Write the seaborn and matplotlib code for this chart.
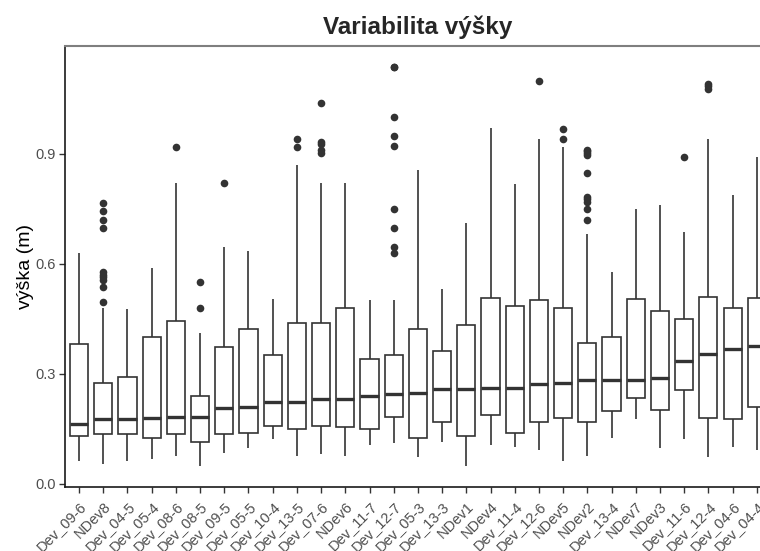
import numpy as np
import pandas as pd
import seaborn as sns
import matplotlib
matplotlib.use('Agg')
import matplotlib.pyplot as plt

# Samples, ordered by median height
categories = ['Dev_09-6', 'NDev8', 'Dev_04-5', 'Dev_05-4', 'Dev_08-6', 'Dev_08-5',
              'Dev_09-5', 'Dev_05-5', 'Dev_10-4', 'Dev_13-5', 'Dev_07-6', 'NDev6',
              'Dev_11-7', 'Dev_12-7', 'Dev_05-3', 'Dev_13-3', 'NDev1', 'NDev4',
              'Dev_11-4', 'Dev_12-6', 'NDev5', 'NDev2', 'Dev_13-4', 'NDev7',
              'NDev3', 'Dev_11-6', 'Dev_12-4', 'Dev_04-6', 'Dev_04-4']

# Box summaries (m)
whisker_lo = [0.061, 0.052, 0.061, 0.066, 0.075, 0.048, 0.084, 0.098, 0.122, 0.075,
              0.080, 0.075, 0.105, 0.111, 0.073, 0.114, 0.048, 0.105, 0.099, 0.091,
              0.061, 0.075, 0.125, 0.175, 0.098, 0.122, 0.073, 0.099, 0.091]
q1 = [0.130, 0.134, 0.134, 0.124, 0.134, 0.112, 0.134, 0.137, 0.158, 0.149,
      0.158, 0.155, 0.149, 0.182, 0.123, 0.169, 0.130, 0.187, 0.137, 0.169,
      0.180, 0.169, 0.198, 0.232, 0.200, 0.255, 0.180, 0.176, 0.208]
median = [0.161, 0.175, 0.175, 0.180, 0.182, 0.182, 0.207, 0.210, 0.221, 0.221,
          0.231, 0.231, 0.239, 0.243, 0.246, 0.257, 0.257, 0.260, 0.260, 0.271,
          0.275, 0.281, 0.281, 0.281, 0.289, 0.334, 0.352, 0.366, 0.375]
q3 = [0.380, 0.273, 0.290, 0.400, 0.443, 0.240, 0.372, 0.421, 0.350, 0.439,
      0.439, 0.478, 0.340, 0.350, 0.421, 0.361, 0.432, 0.507, 0.485, 0.500,
      0.478, 0.382, 0.400, 0.503, 0.470, 0.450, 0.510, 0.478, 0.507]
whisker_hi = [0.628, 0.480, 0.475, 0.589, 0.819, 0.410, 0.646, 0.635, 0.504, 0.869,
              0.819, 0.819, 0.500, 0.500, 0.855, 0.530, 0.710, 0.969, 0.816, 0.940,
              0.919, 0.680, 0.578, 0.748, 0.760, 0.687, 0.940, 0.787, 0.890]

# Outliers
outlier_cat = (['NDev8'] * 10 + ['Dev_08-6'] + ['Dev_08-5'] * 2 + ['Dev_09-5']
               + ['Dev_13-5'] * 2 + ['Dev_07-6'] * 5 + ['Dev_12-7'] * 9
               + ['Dev_12-6'] + ['NDev5'] * 2 + ['NDev2'] * 10 + ['Dev_11-6']
               + ['Dev_12-4'] * 3)
outlier_val = ([0.764, 0.744, 0.719, 0.698, 0.576, 0.569, 0.562, 0.555, 0.535, 0.496]
               + [0.918] + [0.549, 0.478] + [0.821]
               + [0.940, 0.918] + [1.039, 0.932, 0.926, 0.910, 0.902]
               + [1.137, 1.135, 0.999, 0.949, 0.920, 0.748, 0.698, 0.646, 0.628]
               + [1.099] + [0.967, 0.939]
               + [0.910, 0.906, 0.902, 0.896, 0.846, 0.782, 0.775, 0.767, 0.748, 0.719]
               + [0.890] + [1.091, 1.083, 1.075])

y_ticks = [0.0, 0.3, 0.6, 0.9]
y_tick_labels = ['0.0', '0.3', '0.6', '0.9']

# long table for seaborn: five summary points per sample
rows = []
for i, cat in enumerate(categories):
    for v in (whisker_lo[i], q1[i], median[i], q3[i], whisker_hi[i]):
        rows.append((cat, v))
box_df = pd.DataFrame(rows, columns=['vzorek', 'vyska'])

sns.set_style('white')
plt.rcParams['font.family'] = ['Liberation Sans', 'DejaVu Sans']

fig = plt.figure(figsize=(7.6, 5.51), dpi=100)
# panel runs past the right edge, like the cropped original
ax = fig.add_axes([0.0849, 0.117, 0.930, 0.8003])

sns.boxplot(data=box_df, x='vzorek', y='vyska', order=categories, whis=(0, 100),
            width=0.75, color='white', linecolor='#333333', linewidth=1.2,
            showcaps=False, medianprops={'linewidth': 2.4}, ax=ax)
sns.stripplot(x=outlier_cat, y=outlier_val, order=categories, jitter=False,
              color='#333333', size=5.5, linewidth=0, ax=ax)

ax.set_xlim(-0.6, 28.6)
ax.set_ylim(-0.0082, 1.1945)

ax.set_yticks(y_ticks)
ax.set_yticklabels(y_tick_labels)
ax.set_xticks(range(len(categories)))
ax.set_xticklabels(categories, rotation=45, ha='right', va='top',
                   rotation_mode='anchor', fontsize=10.5)

ax.tick_params(axis='both', bottom=True, left=True, length=4, width=1,
               color='#333333', labelcolor='#4d4d4d', pad=2)
ax.tick_params(axis='x', pad=5)
ax.tick_params(axis='y', labelsize=10.5)

for side in ['top', 'right']:
    ax.spines[side].set_color('#7f7f7f')
    ax.spines[side].set_linewidth(1.5)
for side in ['left', 'bottom']:
    ax.spines[side].set_color('#1a1a1a')
    ax.spines[side].set_linewidth(1.2)

ax.set_xlabel('')
ax.set_ylabel('výška (m)', fontsize=14, color='black', labelpad=1)
ax.set_title('Variabilita výšky', fontsize=17.5, fontweight='bold', pad=8)

fig.savefig('out.png', dpi=100)
